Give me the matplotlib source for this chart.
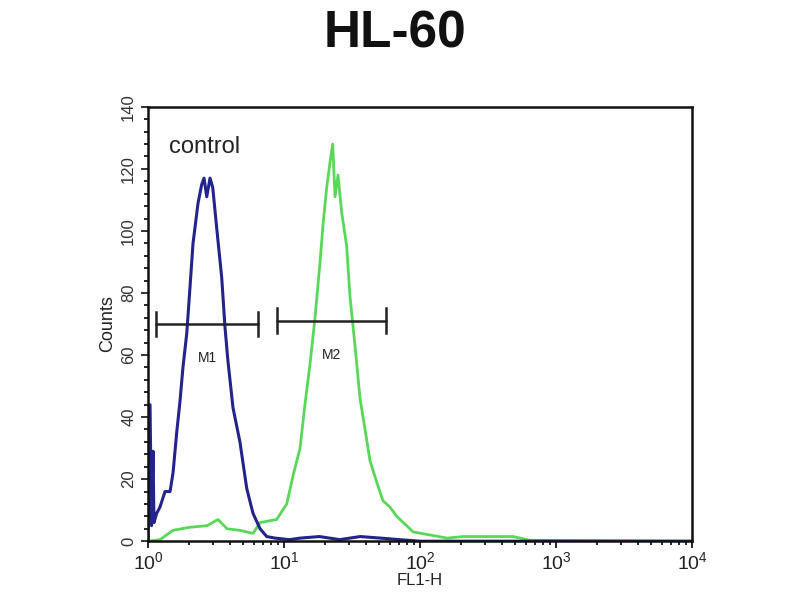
import numpy as np
import matplotlib
matplotlib.use("Agg")
import matplotlib.pyplot as plt
from matplotlib.ticker import MultipleLocator, LogLocator

plt.rcParams['font.family'] = ['Liberation Sans', 'DejaVu Sans']

# log10(FL1-H) positions and counts
control_log = [0.0, 0.015, 0.026, 0.037, 0.044, 0.064, 0.088, 0.125, 0.162, 0.184,
               0.211, 0.235, 0.257, 0.285, 0.309, 0.331, 0.368, 0.395, 0.412, 0.432,
               0.456, 0.476, 0.505, 0.542, 0.566, 0.588, 0.625, 0.676, 0.726, 0.772,
               0.824, 0.873, 0.934, 1.04, 1.12, 1.26, 1.41, 1.56, 1.71, 1.85, 2.0, 4.0]
control_counts = [0, 44, 5, 29, 6, 9, 11, 16, 16, 22,
                  35, 45, 56, 67, 82, 96, 109, 115, 117, 111,
                  117, 114, 101, 85, 69, 58, 43, 32, 17, 9,
                  4, 1.5, 1, 0.5, 1, 1.5, 0.5, 1.5, 1, 0.5, 0, 0]

sample_log = [0.0, 0.088, 0.184, 0.309, 0.434, 0.515, 0.581, 0.676, 0.772, 0.824,
              0.946, 1.02, 1.066, 1.118, 1.154, 1.191, 1.228, 1.265, 1.287, 1.314,
              1.338, 1.358, 1.375, 1.397, 1.424, 1.461, 1.485, 1.522, 1.559, 1.596,
              1.632, 1.682, 1.728, 1.779, 1.829, 1.902, 1.949, 2.074, 2.199, 2.316,
              2.537, 2.684, 2.81, 4.0]
sample_counts = [0, 0.5, 3.5, 4.5, 5, 7, 4, 3.5, 2.5, 6,
                 7, 12, 21, 30, 44, 57, 72, 90, 102, 114,
                 122, 128, 111, 118, 106, 95, 79, 63, 46, 36,
                 26, 19, 13, 11, 8, 5, 3, 2, 1, 1.5,
                 1.5, 1.5, 0.3, 0]

# gate markers
marker_names = ["M1", "M2"]
marker_start = [1.15, 8.9]
marker_end = [6.4, 56.0]
marker_level = [70, 71]
marker_label_x = [2.75, 22.5]
marker_label_y = [59, 60]

title = "HL-60"
xlabel = "FL1-H"
ylabel = "Counts"
annot = "control"

fig = plt.figure(figsize=(8, 6), dpi=100)
ax = fig.add_axes([0.185, 0.098, 0.68, 0.724])

ax.plot(10 ** np.array(sample_log), sample_counts, color='#58d858', lw=2.0)
ax.plot(10 ** np.array(control_log), control_counts, color='#23238c', lw=2.2)

for s, e, lv, nm, lx, ly in zip(marker_start, marker_end, marker_level,
                                marker_names, marker_label_x, marker_label_y):
    ax.plot([s, e], [lv, lv], color='#222222', lw=1.8)
    ax.plot([s, s], [lv - 4, lv + 4], color='#222222', lw=1.8)
    ax.plot([e, e], [lv - 4, lv + 4], color='#222222', lw=1.8)
    ax.text(lx, ly, nm, ha='center', va='center', fontsize=10, color='#222222')

ax.text(1.42, 127, annot, ha='left', va='center', fontsize=17, color='#222222')

ax.set_xscale('log')
ax.set_xlim(1, 1e4)
ax.set_ylim(0, 140)
ax.yaxis.set_major_locator(MultipleLocator(20))
ax.yaxis.set_minor_locator(MultipleLocator(4))
ax.xaxis.set_major_locator(LogLocator(base=10))
ax.xaxis.set_minor_locator(LogLocator(base=10, subs=np.arange(2, 10)))
ax.tick_params(axis='x', which='major', direction='out', length=5, width=1.4,
               labelsize=14, colors='#222222', pad=2)
ax.tick_params(axis='y', which='major', direction='out', length=5, width=1.4,
               labelsize=12, colors='#333333')
ax.tick_params(axis='both', which='minor', direction='out', length=3, width=1.2)
for lbl in ax.get_yticklabels():
    lbl.set_rotation(90)
    lbl.set_va('center')
for sp in ax.spines.values():
    sp.set_linewidth(1.8)
    sp.set_color('#111111')

ax.set_xlabel(xlabel, fontsize=12, labelpad=0, color='#222222')
ax.set_ylabel(ylabel, fontsize=13, labelpad=4, color='#222222')

fig.text(0.494, 0.943, title, ha='center', va='center', fontsize=37,
         fontweight='bold', color='#111111')

fig.savefig('out.png', dpi=100)
